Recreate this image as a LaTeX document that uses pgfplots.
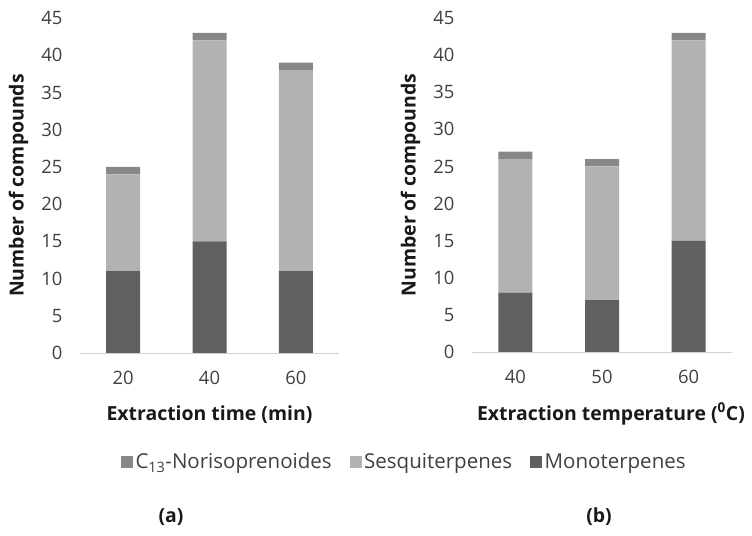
\documentclass[border=0pt]{standalone}
\usepackage{pgfplots}
\pgfplotsset{compat=1.18}
\usepackage{fontspec}
\setmainfont{Open Sans}
\definecolor{mono}{HTML}{606060}
\definecolor{sesq}{HTML}{B2B2B2}
\definecolor{cthir}{HTML}{878787}
\definecolor{tick}{HTML}{404040}
\pgfplotsset{
  panel/.style={
    scale only axis,
    anchor=south west,
    ybar stacked,
    bar width=34bp,
    xmin=-0.5, xmax=2.5,
    ymin=0, ymax=45,
    ytick={0,5,...,45},
    xtick={0,1,2},
    axis x line=bottom,
    axis y line=left,
    axis line style={-},
    x axis line style={draw=black!18, line width=0.8pt},
    y axis line style={draw=none},
    major tick length=0pt,
    /pgf/number format/assume math mode=true,
    tick label style={font=\fontsize{18.5}{20}\selectfont, text=tick},
    yticklabel style={xshift=-14bp},
    xticklabel style={yshift=-15bp},
    every axis y label/.style={at={([xshift=-61.5bp]axis description cs:0,0.5)}, rotate=90, anchor=center, font=\fontsize{19.5}{22}\selectfont\bfseries, text=black!90},
    every axis x label/.style={at={([yshift=-62bp]axis description cs:0.5,0)}, anchor=center, font=\fontsize{19.5}{22}\selectfont\bfseries, text=black!90},
    ylabel={Number of compounds},
    clip=false,
  }
}
\begin{document}
\begin{tikzpicture}
\path[use as bounding box] (0,0) rectangle (752bp,536bp);
\begin{axis}[panel,
  at={(80bp,183bp)}, width=259bp, height=335bp,
  xticklabels={20,40,60},
  xlabel={Extraction time (min)},
  legend columns=3,
  legend style={at={(axis description cs:0.158,-0.325)}, anchor=west, draw=none, fill=none,
    inner sep=0pt,
    font=\fontsize{20.6}{22}\selectfont, text=tick,
    nodes={inner xsep=3bp},
    /tikz/every even column/.append style={column sep=15bp}},
]
\addplot[fill=mono, draw=none, forget plot] coordinates {(0,11) (1,15) (2,11)};
\addplot[fill=sesq, draw=none, forget plot] coordinates {(0,13) (1,27) (2,27)};
\addplot[fill=cthir, draw=none, forget plot] coordinates {(0,1) (1,1) (2,1)};
\addlegendimage{legend image code/.code={\fill[cthir] (0bp,-5.5bp) rectangle (11bp,5.5bp);}}
\addlegendentry{C\textsubscript{13}-Norisoprenoides}
\addlegendimage{legend image code/.code={\fill[sesq] (0bp,-5.5bp) rectangle (11bp,5.5bp);}}
\addlegendentry{Sesquiterpenes\hspace{7bp}}
\addlegendimage{legend image code/.code={\fill[mono] (0bp,-5.5bp) rectangle (11bp,5.5bp);}}
\addlegendentry{Monoterpenes}
\end{axis}
\begin{axis}[panel,
  at={(472bp,184bp)}, width=260bp, height=334bp,
  xticklabels={40,50,60},
  every axis x label/.append style={xshift=9bp},
  xlabel={Extraction temperature (\textsuperscript{0}C)},
]
\addplot[fill=mono, draw=none] coordinates {(0,8) (1,7) (2,15)};
\addplot[fill=sesq, draw=none] coordinates {(0,18) (1,18) (2,27)};
\addplot[fill=cthir, draw=none] coordinates {(0,1) (1,1) (2,1)};
\end{axis}
\node[font=\fontsize{19.5}{22}\selectfont\bfseries, text=black!90] at (171bp,19bp) {(a)};
\node[font=\fontsize{19.5}{22}\selectfont\bfseries, text=black!90] at (599bp,19bp) {(b)};
\end{tikzpicture}
\end{document}
